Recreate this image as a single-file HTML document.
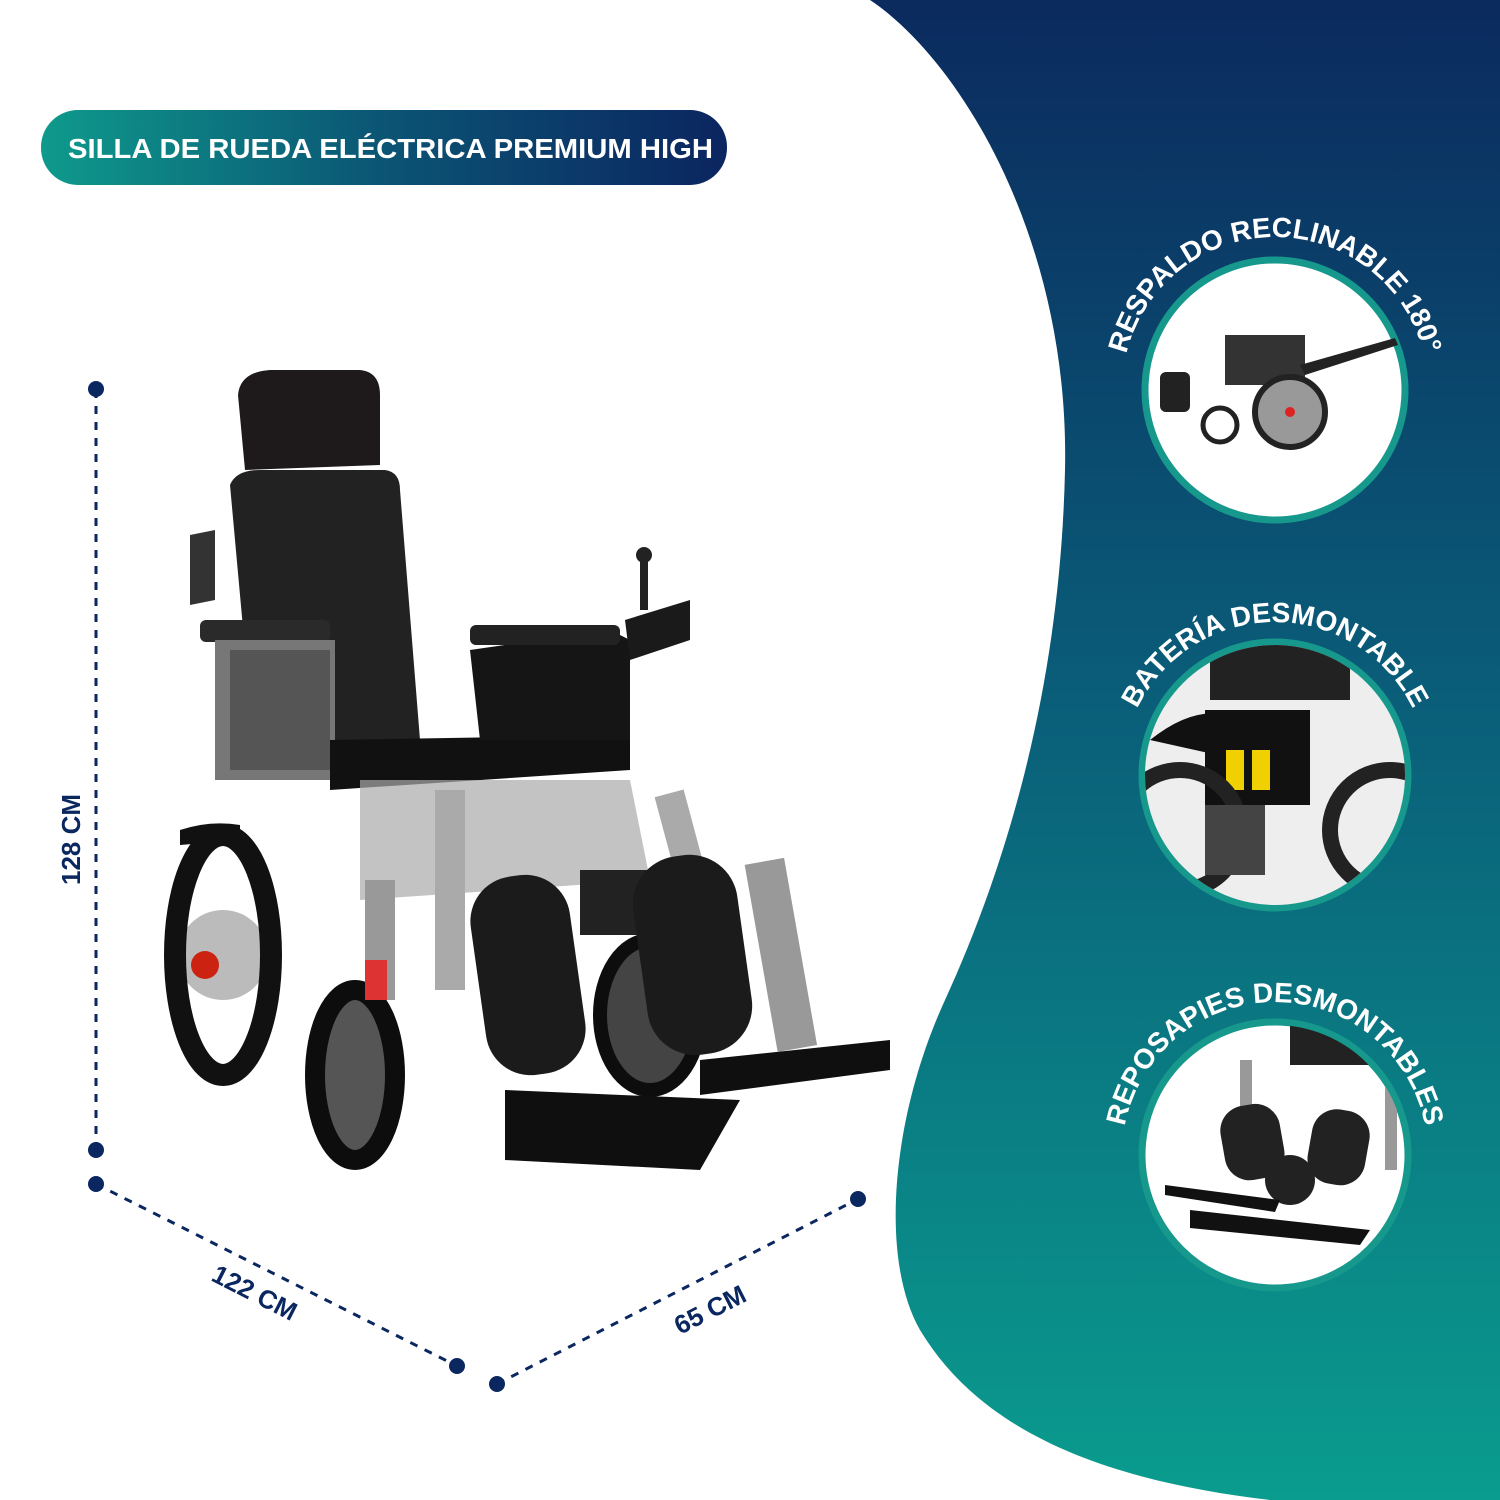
<!DOCTYPE html>
<html><head><meta charset="utf-8"><style>html,body{margin:0;padding:0;background:#fff}svg{display:block}</style></head>
<body>
<svg width="1500" height="1500" viewBox="0 0 1500 1500" xmlns="http://www.w3.org/2000/svg" font-family="Liberation Sans, sans-serif">
<defs>
<linearGradient id="bg" x1="0" y1="0" x2="0" y2="1">
<stop offset="0" stop-color="#0b2a5e"/><stop offset="0.45" stop-color="#0a5c78"/><stop offset="1" stop-color="#0a9c8e"/></linearGradient>
<linearGradient id="pill" x1="0" y1="0" x2="1" y2="0">
<stop offset="0" stop-color="#0e9a8c"/><stop offset="0.5" stop-color="#0b5474"/><stop offset="1" stop-color="#0b2560"/></linearGradient>
<path id="a1" d="M1122,390 A153,153 0 0 1 1428,390"/>
<path id="a2" d="M1122,775 A153,153 0 0 1 1428,775"/>
<path id="a3" d="M1122,1155 A153,153 0 0 1 1428,1155"/>
</defs>
<path d="M870,0 C960,60 1070,240 1065,470 C1060,700 1000,880 945,1000 C890,1120 880,1260 920,1330 C980,1430 1100,1480 1270,1500 L1500,1500 L1500,0 Z" fill="url(#bg)"/>
<rect x="41" y="110" width="686" height="75" rx="37" fill="url(#pill)"/>
<text x="68" y="158" font-size="28" font-weight="bold" fill="#fff" textLength="645" lengthAdjust="spacingAndGlyphs">SILLA DE RUEDA ELÉCTRICA PREMIUM HIGH</text>

<g fill="#fff" stroke="#17988c" stroke-width="7">
<circle cx="1275" cy="390" r="130"/><circle cx="1275" cy="775" r="133"/><circle cx="1275" cy="1155" r="133"/></g>
<g font-size="28" font-weight="bold" fill="#fff">
<text><textPath href="#a1" startOffset="50%" text-anchor="middle">RESPALDO RECLINABLE 180°</textPath></text>
<text><textPath href="#a2" startOffset="50%" text-anchor="middle">BATERÍA DESMONTABLE</textPath></text>
<text><textPath href="#a3" startOffset="50%" text-anchor="middle">REPOSAPIES DESMONTABLES</textPath></text>
</g>
<g>
<rect x="1225" y="335" width="80" height="50" fill="#333"/>
<path d="M1300,365 L1395,338 L1398,345 L1305,375 Z" fill="#222"/>
<circle cx="1290" cy="412" r="35" fill="#999" stroke="#222" stroke-width="6"/><circle cx="1290" cy="412" r="5" fill="#d22"/>
<circle cx="1220" cy="425" r="17" fill="#fff" stroke="#222" stroke-width="5"/>
<rect x="1160" y="372" width="30" height="40" rx="6" fill="#222"/>
</g>
<g>
<clipPath id="c2"><circle cx="1275" cy="775" r="130"/></clipPath>
<g clip-path="url(#c2)">
<rect x="1140" y="640" width="270" height="270" fill="#eee"/>
<rect x="1210" y="640" width="140" height="60" fill="#222"/>
<path d="M1150,740 Q1200,700 1240,720 L1240,760 Z" fill="#111"/>
<rect x="1205" y="710" width="105" height="95" fill="#111"/>
<rect x="1226" y="750" width="18" height="40" fill="#f0d000"/><rect x="1252" y="750" width="18" height="40" fill="#f0d000"/>
<circle cx="1180" cy="830" r="60" fill="none" stroke="#222" stroke-width="16"/>
<circle cx="1390" cy="830" r="60" fill="none" stroke="#222" stroke-width="16"/>
<rect x="1205" y="805" width="60" height="70" fill="#444"/>
</g></g>
<g>
<clipPath id="c3"><circle cx="1275" cy="1155" r="130"/></clipPath>
<g clip-path="url(#c3)">
<rect x="1290" y="1025" width="80" height="40" fill="#222"/>
<rect x="1240" y="1060" width="12" height="100" fill="#999"/><rect x="1385" y="1060" width="12" height="110" fill="#999"/>
<circle cx="1290" cy="1180" r="25" fill="#222"/>
<rect x="1222" y="1105" width="60" height="75" rx="25" fill="#222" transform="rotate(-10 1250 1140)"/>
<rect x="1310" y="1110" width="58" height="75" rx="25" fill="#222" transform="rotate(10 1340 1145)"/>
<path d="M1165,1185 L1280,1200 L1275,1212 L1165,1195 Z" fill="#111"/>
<path d="M1190,1210 L1370,1230 L1360,1245 L1190,1228 Z" fill="#111"/>
</g></g>

<g stroke="#0b2760" stroke-width="3" stroke-dasharray="8 8" fill="none">
<line x1="96" y1="390" x2="96" y2="1150"/>
<line x1="96" y1="1184" x2="457" y2="1366"/>
<line x1="497" y1="1384" x2="858" y2="1199"/>
</g>
<g fill="#0b2760">
<circle cx="96" cy="389" r="8"/><circle cx="96" cy="1150" r="8"/>
<circle cx="96" cy="1184" r="8"/><circle cx="457" cy="1366" r="8"/>
<circle cx="497" cy="1384" r="8"/><circle cx="858" cy="1199" r="8"/>
</g>
<g font-size="26" font-weight="bold" fill="#0b2760">
<text transform="translate(80,885) rotate(-90)">128 CM</text>
<text transform="translate(210,1280) rotate(27)">122 CM</text>
<text transform="translate(680,1335) rotate(-27)">65 CM</text>
</g>

<g>
<path d="M238,395 Q240,372 270,370 L360,370 Q380,372 380,395 L380,465 L245,470 Z" fill="#1e1a1c"/>
<path d="M230,485 Q236,470 260,470 L385,470 Q400,472 400,490 L420,740 L255,760 Z" fill="#222"/>
<path d="M190,535 L215,530 L215,600 L190,605 Z" fill="#333"/>
<rect x="200" y="620" width="130" height="22" rx="6" fill="#2a2a2a"/>
<rect x="215" y="640" width="120" height="140" fill="#777"/>
<rect x="230" y="650" width="100" height="120" fill="#555"/>
<path d="M330,740 L630,735 L630,770 L330,790 Z" fill="#111"/>
<path d="M470,650 L610,630 L630,640 L630,740 L480,740 Z" fill="#151515"/>
<rect x="470" y="625" width="150" height="20" rx="6" fill="#222"/>
<path d="M625,620 L690,600 L690,640 L630,660 Z" fill="#1a1a1a"/>
<rect x="640" y="560" width="8" height="50" fill="#222"/><circle cx="644" cy="555" r="8" fill="#222"/>
<path d="M360,780 L630,780 L650,880 L360,900 Z" fill="#aaa" opacity="0.7"/>
<path d="M180,830 Q210,820 240,825 L240,840 L180,845 Z" fill="#111"/>
<circle cx="223" cy="955" r="45" fill="#bbb"/>
<ellipse cx="223" cy="955" rx="48" ry="120" fill="none" stroke="#111" stroke-width="22"/>
<circle cx="205" cy="965" r="14" fill="#c21"/>
<ellipse cx="355" cy="1075" rx="40" ry="85" fill="#555" stroke="#0d0d0d" stroke-width="20"/>
<rect x="365" y="880" width="30" height="120" fill="#999"/>
<rect x="365" y="960" width="22" height="40" fill="#d33"/>
<rect x="435" y="790" width="30" height="200" fill="#aaa"/>
<rect x="680" y="790" width="30" height="200" fill="#aaa" transform="rotate(-15 695 890)"/>
<ellipse cx="650" cy="1015" rx="50" ry="75" fill="#444" stroke="#0d0d0d" stroke-width="14"/>
<path d="M580,870 L670,870 L640,935 L580,935 Z" fill="#222"/>
<rect x="478" y="875" width="100" height="200" rx="45" fill="#1b1b1b" transform="rotate(-8 528 975)"/>
<rect x="640" y="855" width="105" height="200" rx="48" fill="#1b1b1b" transform="rotate(-8 692 955)"/>
<path d="M505,1090 L740,1100 L700,1170 L505,1160 Z" fill="#0f0f0f"/>
<path d="M700,1060 L890,1040 L890,1070 L700,1095 Z" fill="#0f0f0f"/>
<rect x="760" y="860" width="40" height="190" fill="#999" transform="rotate(-10 780 950)"/>
</g>
</svg>
</body></html>
